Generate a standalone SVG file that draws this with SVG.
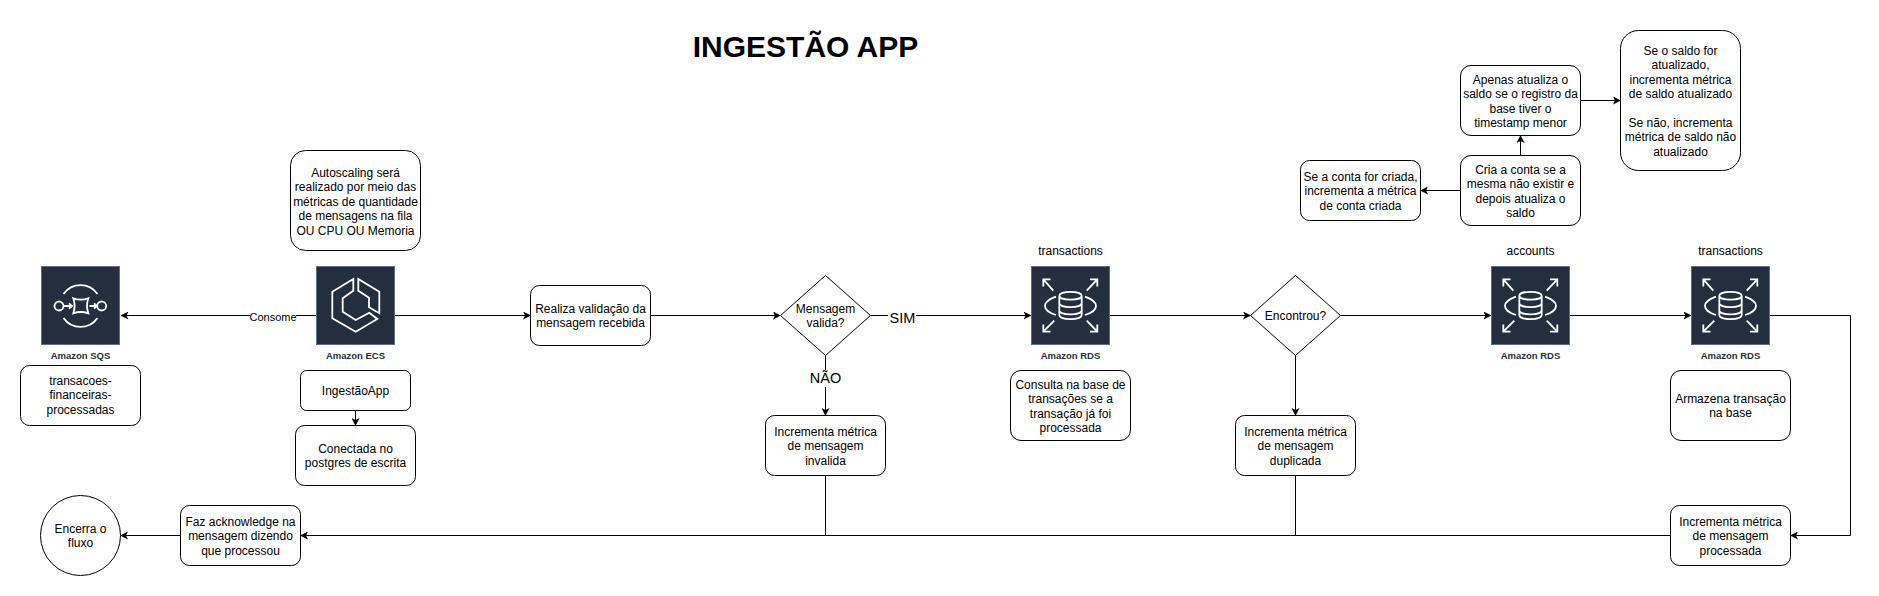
<svg xmlns="http://www.w3.org/2000/svg" width="1879" height="596" viewBox="0 0 1879 596">
<style>
text{font-family:"Liberation Sans",Arial,sans-serif;font-size:12px;fill:#000;text-anchor:middle}
.b{fill:#fff;stroke:#000;stroke-width:1}
.c{fill:none;stroke:#000;stroke-width:1}
.t{font-weight:bold;font-size:30px}
.l{font-weight:bold;font-size:9.5px;fill:#232F3E}
.i{fill:none;stroke:#fff;stroke-width:1.8}
.bg{fill:#232F3E;stroke:#5A6C86;stroke-width:1}
.big{font-size:14.5px}
.sm{font-size:11px}
.lb{fill:#fff}
</style>
<defs>
<marker id="a" viewBox="0 0 8 8" refX="7.5" refY="4" markerWidth="8" markerHeight="8" markerUnits="userSpaceOnUse" orient="auto"><path d="M0 0L8 4L0 8L2 4Z" fill="#000"/></marker>
<g id="rds">
<rect class="bg" width="78" height="78"/>
<path class="i" d="M21.8 24.2L11.8 12.8M11.8 20V12.8H19M55.2 24.2L65.8 12.8M58.6 12.8H65.8V20M22.8 54.2L11.8 65.2M11.8 58V65.2H19M55.2 54.2L65.8 65.2M65.8 58V65.2H58.6"/>
<path class="i" d="M24.5 30.2Q13.5 34 13.5 39.5T24.5 48.5M53.5 30.2Q64.5 34 64.5 39.5T53.5 48.5"/>
<path class="i" d="M27.8 29.2C27.8 24 50.2 24 50.2 29.2V48.5C50.2 54 27.8 54 27.8 48.5ZM27.8 29.2C27.8 34.5 50.2 34.5 50.2 29.2M27.8 36.8C27.8 42 50.2 42 50.2 36.8M27.8 44C27.8 49.2 50.2 49.2 50.2 44"/>
</g>
</defs>

<g id="connectors">
<path class="c" d="M316 315.5H121" marker-end="url(#a)"/>
<path class="c" d="M395 315.5H530.5" marker-end="url(#a)"/>
<path class="c" d="M650.5 315.5H780.5" marker-end="url(#a)"/>
<path class="c" d="M870.5 315.5H1031" marker-end="url(#a)"/>
<path class="c" d="M1110 315.5H1250.5" marker-end="url(#a)"/>
<path class="c" d="M1340.5 315.5H1491" marker-end="url(#a)"/>
<path class="c" d="M1570 315.5H1691" marker-end="url(#a)"/>
<path class="c" d="M1770 315.5H1850.5V535.5H1790.5" marker-end="url(#a)"/>
<path class="c" d="M1670.5 535.5H300.5" marker-end="url(#a)"/>
<path class="c" d="M180.5 535.5H120.5" marker-end="url(#a)"/>
<path class="c" d="M825.5 355.5V415.5" marker-end="url(#a)"/>
<path class="c" d="M825.5 475.5V535.5"/>
<path class="c" d="M1295.5 355.5V415.5" marker-end="url(#a)"/>
<path class="c" d="M1295.5 475.5V535.5"/>
<path class="c" d="M355.5 410.5V425.5" marker-end="url(#a)"/>
<path class="c" d="M1520.5 155.5V135.5" marker-end="url(#a)"/>
<path class="c" d="M1460.5 190.5H1420.5" marker-end="url(#a)"/>
<path class="c" d="M1580.5 100.5H1620.5" marker-end="url(#a)"/>
<rect class="lb" x="250" y="310" width="46" height="13"/>
<text class="sm" x="273" y="321">Consome</text>
<rect class="lb" x="888" y="308" width="28" height="16"/>
<text class="big" x="902.5" y="323">SIM</text>
<rect class="lb" x="809" y="370" width="33" height="17"/>
<text class="big" x="825.5" y="383">NÃO</text>
</g>

<text id="title" class="t" x="805.5" y="57">INGESTÃO APP</text>

<g id="sqs" transform="translate(41.5 266.5)">
<rect class="bg" width="78" height="78"/>
<path class="i" d="M22 27.6A20.7 20.7 0 0 1 56 27.6M22 51.4A20.7 20.7 0 0 0 56 51.4"/>
<circle class="i" cx="17.5" cy="39.5" r="4.5"/><circle class="i" cx="60.2" cy="39.5" r="4.5"/>
<path class="i" d="M31.8 31.8Q39.3 34.5 46.8 31.8Q44.2 39.3 46.8 46.8Q39.3 44.2 31.8 46.8Q34.4 39.3 31.8 31.8Z"/>
<path class="i" d="M22 39.5H30.5M27.5 36.8L30.5 39.5L27.5 42.2M48 39.5H55.5M52.5 36.8L55.5 39.5L52.5 42.2"/>
<text class="l" x="39" y="92.5">Amazon SQS</text>
</g>
<g id="ecs" transform="translate(316.5 266.5)">
<rect class="bg" width="78" height="78"/>
<path class="i" d="M36.8 12.5L15.8 25.2V51.8L39.2 65.2L60.8 52.5L52.8 46.2L39.2 53.5L26.2 45.2V31.8L36.8 24.2ZM41.8 12.5L62.8 25.2V46.8L52.5 40.8V31.2L41.8 24.2Z"/>
<text class="l" x="39" y="92.5">Amazon ECS</text>
</g>
<g id="rds1" transform="translate(1031.5 266.5)"><use href="#rds"/><text class="l" x="39" y="92.5">Amazon RDS</text><text x="39" y="-12">transactions</text></g>
<g id="rds2" transform="translate(1491.5 266.5)"><use href="#rds"/><text class="l" x="39" y="92.5">Amazon RDS</text><text x="39" y="-12">accounts</text></g>
<g id="rds3" transform="translate(1691.5 266.5)"><use href="#rds"/><text class="l" x="39" y="92.5">Amazon RDS</text><text x="39" y="-12">transactions</text></g>

<g id="auto"><rect class="b" x="290.5" y="150.5" width="130" height="100" rx="15"/>
<text x="355.5" y="177">Autoscaling será</text><text x="355.5" y="191.4">realizado por meio das</text><text x="355.5" y="205.8">métricas de quantidade</text><text x="355.5" y="220.2">de mensagens na fila</text><text x="355.5" y="234.6">OU CPU OU Memoria</text></g>
<g id="fila"><rect class="b" x="20.5" y="365.5" width="120" height="60" rx="9"/>
<text x="80.5" y="385">transacoes-</text><text x="80.5" y="399.4">financeiras-</text><text x="80.5" y="413.8">processadas</text></g>
<g id="app"><rect class="b" x="300.5" y="370.5" width="110" height="40" rx="6"/><text x="355.5" y="395">IngestãoApp</text></g>
<g id="con"><rect class="b" x="295.5" y="425.5" width="120" height="60" rx="9"/><text x="355.5" y="453">Conectada no</text><text x="355.5" y="467.4">postgres de escrita</text></g>
<g id="fim"><circle class="b" cx="80.5" cy="535.5" r="40"/><text x="80.5" y="533">Encerra o</text><text x="80.5" y="547.4">fluxo</text></g>
<g id="ack"><rect class="b" x="180.5" y="505.5" width="120" height="60" rx="9"/><text x="240.5" y="526">Faz acknowledge na</text><text x="240.5" y="540.4">mensagem dizendo</text><text x="240.5" y="554.8">que processou</text></g>
<g id="val"><rect class="b" x="530.5" y="285.5" width="120" height="60" rx="9"/><text x="590.5" y="313">Realiza validação da</text><text x="590.5" y="327.4">mensagem recebida</text></g>
<g id="d1"><path class="b" d="M825.5 275.5L870.5 315.5L825.5 355.5L780.5 315.5Z"/><text x="825.5" y="313">Mensagem</text><text x="825.5" y="327.4">valida?</text></g>
<g id="inv"><rect class="b" x="765.5" y="415.5" width="120" height="60" rx="9"/><text x="825.5" y="436">Incrementa métrica</text><text x="825.5" y="450.4">de mensagem</text><text x="825.5" y="464.8">invalida</text></g>
<g id="cons"><rect class="b" x="1010.5" y="370.5" width="120" height="70" rx="10.5"/><text x="1070.5" y="389">Consulta na base de</text><text x="1070.5" y="403.4">transações se a</text><text x="1070.5" y="417.8">transação já foi</text><text x="1070.5" y="432.2">processada</text></g>
<g id="d2"><path class="b" d="M1295.5 275.5L1340.5 315.5L1295.5 355.5L1250.5 315.5Z"/><text x="1295.5" y="320">Encontrou?</text></g>
<g id="dup"><rect class="b" x="1235.5" y="415.5" width="120" height="60" rx="9"/><text x="1295.5" y="436">Incrementa métrica</text><text x="1295.5" y="450.4">de mensagem</text><text x="1295.5" y="464.8">duplicada</text></g>
<g id="arm"><rect class="b" x="1670.5" y="370.5" width="120" height="70" rx="10.5"/><text x="1730.5" y="403">Armazena transação</text><text x="1730.5" y="417.4">na base</text></g>
<g id="proc"><rect class="b" x="1670.5" y="505.5" width="120" height="60" rx="9"/><text x="1730.5" y="526">Incrementa métrica</text><text x="1730.5" y="540.4">de mensagem</text><text x="1730.5" y="554.8">processada</text></g>
<g id="cria"><rect class="b" x="1460.5" y="155.5" width="120" height="70" rx="10.5"/><text x="1520.5" y="174">Cria a conta se a</text><text x="1520.5" y="188.4">mesma não existir e</text><text x="1520.5" y="202.8">depois atualiza o</text><text x="1520.5" y="217.2">saldo</text></g>
<g id="sconta"><rect class="b" x="1300.5" y="160.5" width="120" height="60" rx="9"/><text x="1360.5" y="181">Se a conta for criada,</text><text x="1360.5" y="195.4">incrementa a métrica</text><text x="1360.5" y="209.8">de conta criada</text></g>
<g id="apenas"><rect class="b" x="1460.5" y="65.5" width="120" height="70" rx="10.5"/><text x="1520.5" y="84">Apenas atualiza o</text><text x="1520.5" y="98.4">saldo se o registro da</text><text x="1520.5" y="112.8">base tiver o</text><text x="1520.5" y="127.2">timestamp menor</text></g>
<g id="saldo"><rect class="b" x="1620.5" y="30.5" width="120" height="140" rx="18"/><text x="1680.5" y="55">Se o saldo for</text><text x="1680.5" y="69.4">atualizado,</text><text x="1680.5" y="83.8">incrementa métrica</text><text x="1680.5" y="98.2">de saldo atualizado</text><text x="1680.5" y="127">Se não, incrementa</text><text x="1680.5" y="141.4">métrica de saldo não</text><text x="1680.5" y="155.8">atualizado</text></g>
</svg>
